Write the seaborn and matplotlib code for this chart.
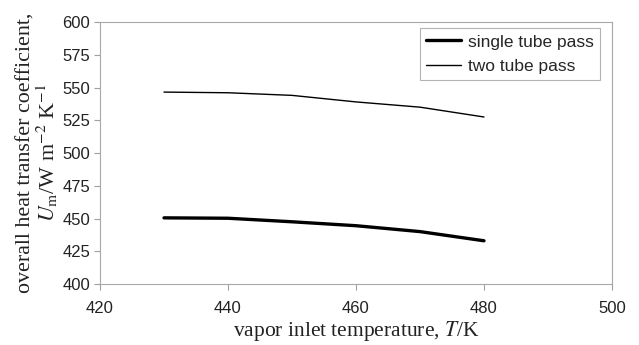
import pandas as pd
import matplotlib
matplotlib.use("Agg")
import matplotlib.pyplot as plt
import seaborn as sns

temps = [430, 440, 450, 460, 470, 480]
single_pass = [450.5, 450.2, 447.5, 444.5, 440.0, 433.0]
two_pass = [546.5, 546.0, 544.0, 539.0, 535.0, 527.5]

x_ticks = [420, 440, 460, 480, 500]
y_ticks = [400, 425, 450, 475, 500, 525, 550, 575, 600]


def main():
    sns.set_style("white")
    plt.rcParams['font.family'] = ['Liberation Sans', 'DejaVu Sans']
    plt.rcParams['mathtext.fontset'] = 'stix'

    data = pd.DataFrame({
        'T': temps * 2,
        'U': single_pass + two_pass,
        'series': ['single tube pass'] * len(temps) + ['two tube pass'] * len(temps),
    })

    fig = plt.figure(figsize=(6.39, 3.45), dpi=100)
    ax = fig.add_axes([0.1565, 0.1768, 0.8012, 0.7594])

    sns.lineplot(data=data[data['series'] == 'single tube pass'], x='T', y='U',
                 color='black', linewidth=2.4, label='single tube pass', ax=ax)
    sns.lineplot(data=data[data['series'] == 'two tube pass'], x='T', y='U',
                 color='black', linewidth=1.0, label='two tube pass', ax=ax)

    ax.set_xlim(420, 500)
    ax.set_ylim(400, 600)
    ax.set_xticks(x_ticks)
    ax.set_yticks(y_ticks)
    ax.tick_params(axis='both', direction='out', length=4, width=0.8,
                   color='#a0a0a0', labelsize=12, labelcolor='#222222',
                   bottom=True, left=True, pad=3)
    ax.tick_params(axis='x', pad=8)
    for sp in ax.spines.values():
        sp.set_color('#a8a8a8')
        sp.set_linewidth(0.8)

    ax.set_xlabel("vapor inlet temperature, $T$/K", family='Liberation Serif',
                  fontsize=15.5, color='#222222', labelpad=2.5)
    ax.set_ylabel("overall heat transfer coefficient,\n"
                  r"$U_\mathrm{m}$/W m$^{-2}$ K$^{-1}$",
                  family='Liberation Serif', fontsize=15.8, color='#222222',
                  linespacing=0.95, labelpad=1.5)

    leg = ax.legend(loc='upper right', bbox_to_anchor=(0.9765, 0.976),
                    borderaxespad=0, fontsize=12.5, frameon=True, fancybox=False,
                    handlelength=2.0, borderpad=0.35, labelspacing=0.55,
                    handletextpad=0.4)
    leg.get_frame().set_edgecolor('#a0a0a0')
    leg.get_frame().set_linewidth(0.8)

    fig.savefig("out.png", dpi=100)


if __name__ == "__main__":
    main()
